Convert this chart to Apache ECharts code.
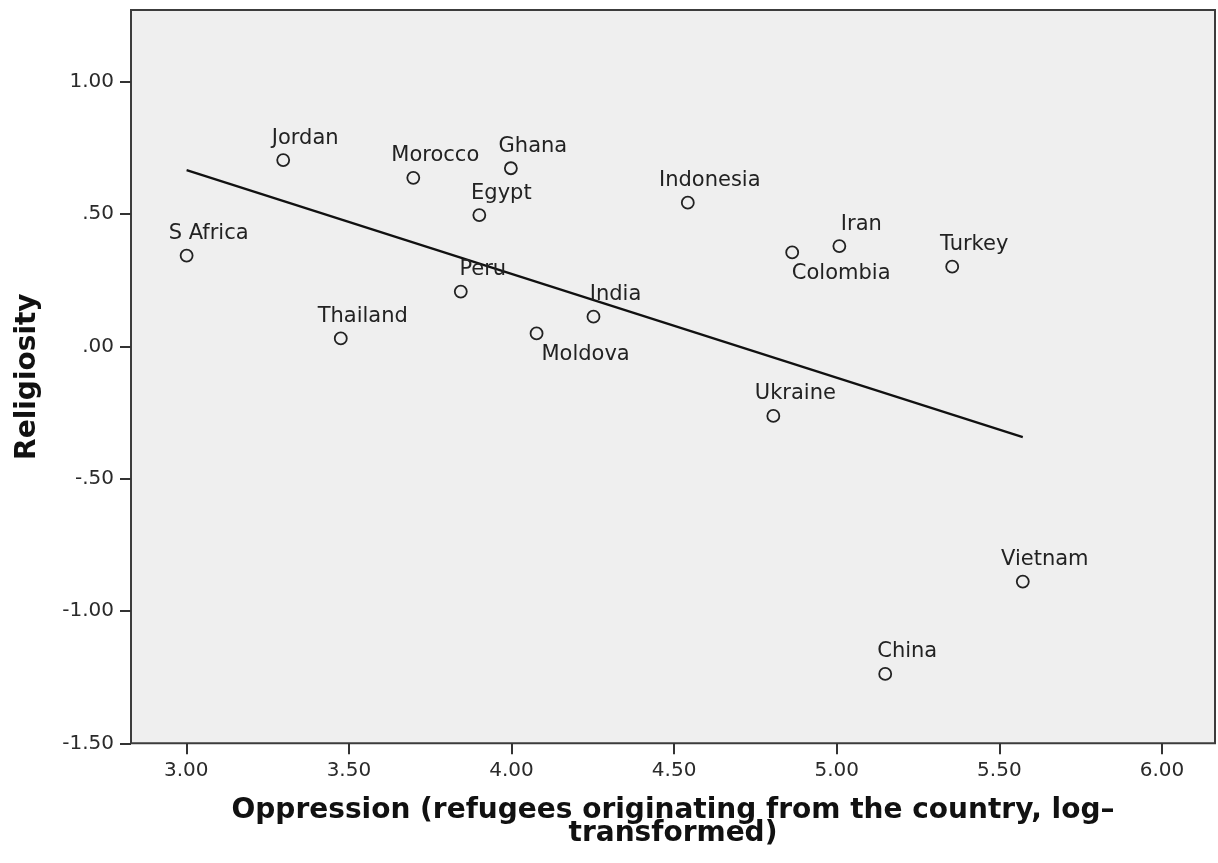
<!DOCTYPE html>
<html>
<head>
<meta charset="utf-8">
<title>Religiosity vs Oppression</title>
<script src="https://cdn.jsdelivr.net/npm/echarts@6/dist/echarts.min.js"></script>
<style>
  html, body { margin: 0; padding: 0; background: #ffffff; }
  #chart { width: 1218px; height: 863px; }
</style>
</head>
<body>
<div id="chart"></div>
<script>
// Countries and their scores
const countries = ['S Africa', 'Jordan', 'Thailand', 'Morocco', 'Peru', 'Egypt', 'Ghana', 'Moldova',
                   'India', 'Indonesia', 'Ukraine', 'Colombia', 'Iran', 'Turkey', 'China', 'Vietnam'];
const oppression = [3.001, 3.298, 3.475, 3.698, 3.844, 3.901, 3.998, 4.077,
                    4.252, 4.542, 4.805, 4.863, 5.008, 5.355, 5.149, 5.572];
const religiosity = [0.343, 0.704, 0.030, 0.637, 0.207, 0.496, 0.673, 0.049,
                     0.112, 0.543, -0.263, 0.355, 0.379, 0.301, -1.238, -0.889];

// Linear fit line endpoints (x, y)
const fitLine = [[3.001, 0.666], [5.572, -0.343]];

// Axis ticks and their printed labels
const xTicks = [3.0, 3.5, 4.0, 4.5, 5.0, 5.5, 6.0];
const xTickLabels = ['3.00', '3.50', '4.00', '4.50', '5.00', '5.50', '6.00'];
const yTicks = [-1.5, -1.0, -0.5, 0.0, 0.5, 1.0];
const yTickLabels = ['-1.50', '-1.00', '-.50', '.00', '.50', '1.00'];

const xTitle = 'Oppression (refugees originating from the country, log\u2013\ntransformed)';
const yTitle = 'Religiosity';

// Labels that sit below-right of their marker instead of above
const labelsBelow = ['Colombia', 'Moldova'];

const FONT = 'DejaVu Sans';

function tickText(ticks, labels) {
  return function (v) {
    for (let i = 0; i < ticks.length; i++) {
      if (Math.abs(ticks[i] - v) < 1e-6) return labels[i];
    }
    return '';
  };
}

const points = countries.map(function (name, i) {
  const item = { name: name, value: [oppression[i], religiosity[i]] };
  if (labelsBelow.indexOf(name) >= 0) {
    item.label = { offset: [49, 21] };
  }
  return item;
});

const chart = echarts.init(document.getElementById('chart'), null, { renderer: 'canvas' });

chart.setOption({
  animation: false,
  backgroundColor: '#ffffff',
  textStyle: { fontFamily: FONT },
  grid: {
    left: 131, right: 3, top: 10, bottom: 119.7,
    show: true,
    backgroundColor: '#efefef',
    borderColor: '#3c3c3c',
    borderWidth: 2
  },
  xAxis: {
    type: 'value',
    min: 2.830, max: 6.163,
    splitLine: { show: false },
    axisLine: { show: false, onZero: false },
    axisTick: { show: true, customValues: xTicks, length: 11, lineStyle: { color: '#333', width: 2 } },
    axisLabel: {
      customValues: xTicks,
      formatter: tickText(xTicks, xTickLabels),
      margin: 17, fontSize: 20, color: '#2a2a2a', fontFamily: FONT
    },
    name: xTitle,
    nameLocation: 'middle',
    nameGap: 56,
    nameMoveOverlap: false,
    nameTextStyle: { fontSize: 28, fontWeight: 'bold', color: '#111', lineHeight: 23, fontFamily: FONT, align: 'center' }
  },
  yAxis: {
    type: 'value',
    min: -1.5, max: 1.271,
    splitLine: { show: false },
    axisLine: { show: false, onZero: false },
    axisTick: { show: true, customValues: yTicks, length: 11, lineStyle: { color: '#333', width: 2 } },
    axisLabel: {
      customValues: yTicks,
      formatter: tickText(yTicks, yTickLabels),
      margin: 17, fontSize: 20, color: '#2a2a2a', fontFamily: FONT
    },
    name: yTitle,
    nameLocation: 'middle',
    nameGap: 89,
    nameTextStyle: { fontSize: 28, fontWeight: 'bold', color: '#111', fontFamily: FONT }
  },
  series: [
    {
      type: 'line',
      data: fitLine,
      symbol: 'none',
      silent: true,
      lineStyle: { color: '#111', width: 2.2 },
      z: 2
    },
    {
      type: 'scatter',
      data: points,
      symbol: 'circle',
      symbolSize: 12,
      itemStyle: { color: '#efefef', borderColor: '#222', borderWidth: 1.8, opacity: 1 },
      emphasis: { disabled: true },
      label: {
        show: true,
        formatter: '{b}',
        position: 'inside',
        offset: [22, -22],
        fontSize: 21,
        color: '#222',
        fontFamily: FONT
      },
      z: 3
    }
  ]
});
</script>
</body>
</html>
